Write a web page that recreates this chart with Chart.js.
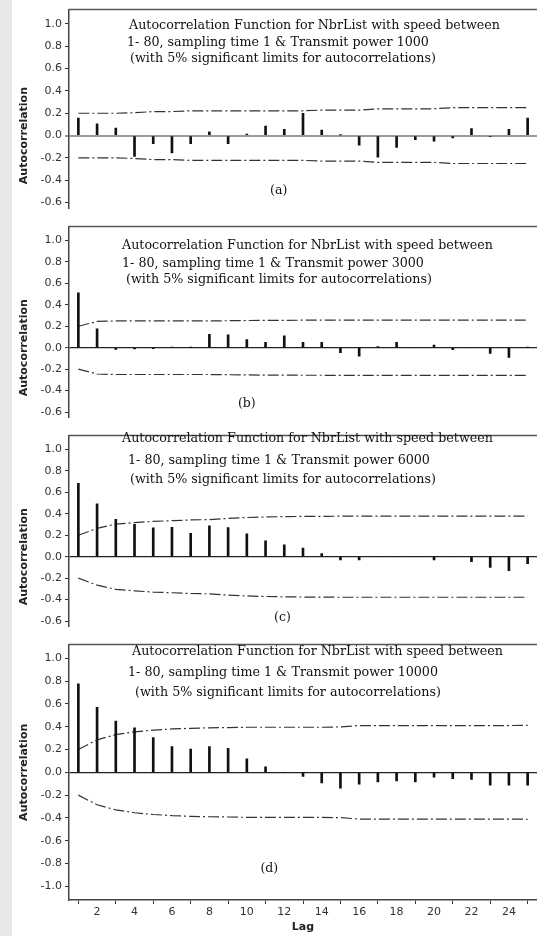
<!DOCTYPE html>
<html>
<head>
<meta charset="utf-8">
<script src="https://cdn.jsdelivr.net/npm/chart.js@4.4.0/dist/chart.umd.min.js"></script>
<style>
  html, body { margin: 0; padding: 0; background: #e8e8e8; }
  #sheet { position: absolute; left: 12px; top: 0; width: 525px; height: 936px; background: #fff; }
  canvas { position: absolute; left: 0; }
  .ttl { position: absolute; font: 12.7px "DejaVu Serif", serif; color: #111; white-space: nowrap; line-height: 13px; }
</style>
</head>
<body>
<div id="sheet"></div>
<canvas id="cA" width="537" height="218" style="top:0px"></canvas>
<canvas id="cB" width="537" height="210" style="top:217px"></canvas>
<canvas id="cC" width="537" height="210" style="top:426px"></canvas>
<canvas id="cD" width="537" height="301" style="top:635px"></canvas>
<script>
// lags 1..25
const lags = [1, 2, 3, 4, 5, 6, 7, 8, 9, 10, 11, 12, 13, 14, 15, 16, 17, 18, 19, 20, 21, 22, 23, 24, 25];

// (a) transmit power 1000
const acfA = [0.157, 0.106, 0.068, -0.187, -0.073, -0.156, -0.073, 0.034, -0.073, 0.014, 0.085, 0.057, 0.199,
              0.049, 0.006, -0.085, -0.193, -0.107, -0.037, -0.051, -0.022, 0.063, -0.01, 0.055, 0.157];
const limA = [0.2, 0.2, 0.2, 0.205, 0.215, 0.215, 0.222, 0.222, 0.222, 0.222, 0.222, 0.222, 0.222,
              0.228, 0.228, 0.228, 0.24, 0.24, 0.24, 0.24, 0.25, 0.25, 0.25, 0.25, 0.25];

// (b) transmit power 3000
const acfB = [0.512, 0.177, -0.015, -0.012, -0.008, 0.005, 0.002, 0.124, 0.12, 0.076, 0.051, 0.11, 0.051,
              0.051, -0.045, -0.079, 0.01, 0.051, 0.0, 0.025, -0.017, 0.0, -0.053, -0.09, 0.005];
const limB = [0.2, 0.245, 0.25, 0.25, 0.25, 0.25, 0.25, 0.25, 0.252, 0.254, 0.255, 0.255, 0.257,
              0.257, 0.258, 0.258, 0.258, 0.258, 0.258, 0.258, 0.258, 0.258, 0.258, 0.258, 0.258];

// (c) transmit power 6000
const acfC = [0.684, 0.493, 0.348, 0.303, 0.269, 0.275, 0.219, 0.289, 0.272, 0.213, 0.149, 0.112, 0.08,
              0.03, -0.03, -0.03, 0.0, 0.0, 0.0, -0.03, 0.0, -0.045, -0.1, -0.13, -0.065];
const limC = [0.2, 0.265, 0.305, 0.318, 0.33, 0.336, 0.343, 0.346, 0.358, 0.366, 0.371, 0.374, 0.376,
              0.377, 0.378, 0.378, 0.378, 0.378, 0.378, 0.378, 0.378, 0.378, 0.378, 0.378, 0.378];

// (d) transmit power 10000
const acfD = [0.775, 0.57, 0.45, 0.39, 0.304, 0.225, 0.203, 0.225, 0.21, 0.118, 0.048, 0.0, -0.037,
              -0.093, -0.14, -0.104, -0.085, -0.076, -0.085, -0.042, -0.056, -0.062, -0.113, -0.113, -0.113];
const limD = [0.2, 0.285, 0.33, 0.355, 0.37, 0.38, 0.386, 0.39, 0.392, 0.395, 0.395, 0.395, 0.395,
              0.395, 0.398, 0.41, 0.41, 0.41, 0.41, 0.41, 0.41, 0.41, 0.41, 0.41, 0.412];

const yTicksCut  = [1.0, 0.8, 0.6, 0.4, 0.2, 0.0, -0.2, -0.4, -0.6];
const yTicksFull = [1.0, 0.8, 0.6, 0.4, 0.2, 0.0, -0.2, -0.4, -0.6, -0.8, -1.0];
const xTicks = [2, 4, 6, 8, 10, 12, 14, 16, 18, 20, 22, 24];

const titleLine1 = 'Autocorrelation Function for NbrList with speed between';
const titleLine3 = '(with 5% significant limits for autocorrelations)';
const powers = ['1000', '3000', '6000', '10000'];
const captions = ['(a)', '(b)', '(c)', '(d)'];

const panels = [
  { id: 'cA', acf: acfA, lim: limA, yMin: -0.652, yMax: 1.128, yTicks: yTicksCut, padTop: 8, showX: false,
    zero: '#9a9a9a', zeroW: 2, cap: [11.7, -0.49], lines: [[129, 25], [127, 42], [130, 58]] },
  { id: 'cB', acf: acfB, lim: limB, yMin: -0.65, yMax: 1.13, yTicks: yTicksCut, padTop: 1, showX: false,
    zero: '#222', zeroW: 1.2, cap: [10.0, -0.52], lines: [[122, 245], [122, 263], [126, 279]] },
  { id: 'cC', acf: acfC, lim: limC, yMin: -0.65, yMax: 1.13, yTicks: yTicksCut, padTop: 1, showX: false,
    zero: '#222', zeroW: 1.2, cap: [11.9, -0.57], lines: [[122, 438], [128, 460], [130, 479]] },
  { id: 'cD', acf: acfD, lim: limD, yMin: -1.12, yMax: 1.12, yTicks: yTicksFull, padTop: 1, showX: true,
    zero: '#222', zeroW: 1.2, cap: [11.2, -0.85], lines: [[132, 651], [128, 672], [135, 692]] }
];

// frame, rotated y title centred on zero, panel caption
const decor = {
  id: 'decor',
  afterDraw(chart, args, opts) {
    const { ctx, chartArea, scales } = chart;
    ctx.save();
    ctx.strokeStyle = '#555';
    ctx.lineWidth = 1.5;
    ctx.beginPath();
    ctx.moveTo(chartArea.left, chartArea.top);
    ctx.lineTo(chartArea.right, chartArea.top);
    ctx.stroke();

    ctx.fillStyle = '#222';
    ctx.font = 'bold 11px "DejaVu Sans"';
    ctx.textAlign = 'center';
    ctx.textBaseline = 'middle';
    ctx.translate(24, scales.y.getPixelForValue(0));
    ctx.rotate(-Math.PI / 2);
    ctx.fillText('Autocorrelation', 0, 0);
    ctx.restore();

    ctx.save();
    ctx.fillStyle = '#111';
    ctx.font = '12.5px "DejaVu Serif"';
    ctx.textAlign = 'center';
    ctx.textBaseline = 'middle';
    ctx.fillText(opts.caption, scales.x.getPixelForValue(opts.capX), scales.y.getPixelForValue(opts.capY));
    ctx.restore();
  }
};

const tickFont = { family: 'DejaVu Sans', size: 11 };

panels.forEach((p, k) => {
  const limitStyle = {
    type: 'line', borderColor: '#333', borderWidth: 1.2, borderDash: [11, 3, 2, 3],
    pointRadius: 0, fill: false, tension: 0
  };
  new Chart(document.getElementById(p.id), {
    type: 'bar',
    data: {
      datasets: [
        { type: 'bar', data: lags.map((x, i) => ({ x, y: p.acf[i] })), backgroundColor: '#111',
          barThickness: 2, grouped: false },
        Object.assign({ data: lags.map((x, i) => ({ x, y: p.lim[i] })) }, limitStyle),
        Object.assign({ data: lags.map((x, i) => ({ x, y: -p.lim[i] })) }, limitStyle)
      ]
    },
    options: {
      responsive: false,
      animation: false,
      layout: { padding: { top: p.padTop, left: 0, right: 0, bottom: 0 } },
      plugins: {
        legend: { display: false },
        tooltip: { enabled: false },
        decor: { caption: captions[k], capX: p.cap[0], capY: p.cap[1] }
      },
      scales: {
        x: {
          type: 'linear', min: 0.5, max: 25.5, offset: false, display: p.showX,
          afterBuildTicks: s => { s.ticks = xTicks.map(v => ({ value: v })); },
          afterFit: s => { s.height = p.showX ? 36 : 0; },
          grid: { drawOnChartArea: false, tickLength: 4, tickColor: '#333' },
          border: { display: true, color: '#444', width: 1.5 },
          ticks: { font: tickFont, color: '#333', padding: 2, autoSkip: false, maxRotation: 0 },
          title: { display: true, text: 'Lag', color: '#222', font: { family: 'DejaVu Sans', size: 11, weight: 'bold' },
                   padding: { top: 0, bottom: 2 } }
        },
        y: {
          min: p.yMin, max: p.yMax,
          afterBuildTicks: s => { s.ticks = p.yTicks.map(v => ({ value: v })); },
          afterFit: s => { s.width = 69; },
          grid: {
            drawOnChartArea: true, tickLength: 4, tickColor: '#333', tickWidth: 1,
            color: c => (c.tick && c.tick.value === 0) ? p.zero : 'rgba(0,0,0,0)',
            lineWidth: c => (c.tick && c.tick.value === 0) ? p.zeroW : 1
          },
          border: { display: true, color: '#444', width: 1.5 },
          ticks: { font: tickFont, color: '#333', padding: 3, callback: v => Number(v).toFixed(1) }
        }
      }
    },
    plugins: [decor]
  });

  const texts = [titleLine1, '1- 80, sampling time 1 & Transmit power ' + powers[k], titleLine3];
  texts.forEach((t, j) => {
    const d = document.createElement('div');
    d.className = 'ttl';
    d.textContent = t;
    d.style.left = p.lines[j][0] + 'px';
    d.style.top = (p.lines[j][1] - 7) + 'px';
    document.body.appendChild(d);
  });
});
</script>
</body>
</html>
